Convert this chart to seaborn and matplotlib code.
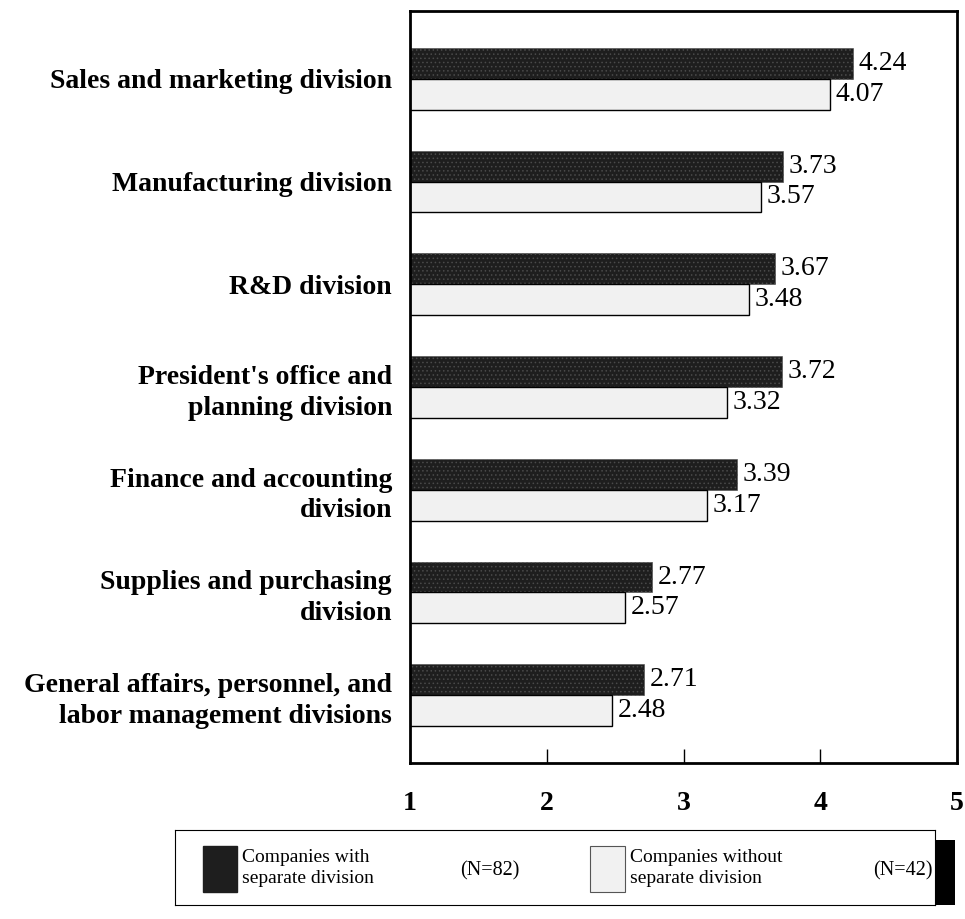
import matplotlib
matplotlib.use("Agg")
import matplotlib.pyplot as plt
from matplotlib.patches import Rectangle
import seaborn as sns
import pandas as pd

# Survey scores by division (1 = low, 5 = high)
divisions = [
    "Sales and marketing division",
    "Manufacturing division",
    "R&D division",
    "President's office and\nplanning division",
    "Finance and accounting\ndivision",
    "Supplies and purchasing\ndivision",
    "General affairs, personnel, and\nlabor management divisions",
]
with_separate = [4.24, 3.73, 3.67, 3.72, 3.39, 2.77, 2.71]
without_separate = [4.07, 3.57, 3.48, 3.32, 3.17, 2.57, 2.48]
group_names = ["Companies with\nseparate division", "Companies without\nseparate division"]
group_counts = ["(N=82)", "(N=42)"]
x_ticks = [1, 2, 3, 4, 5]

df = pd.DataFrame({
    "division": divisions * 2,
    "score": with_separate + without_separate,
    "group": [group_names[0]] * len(divisions) + [group_names[1]] * len(divisions),
})

sns.set_theme(style="white")
plt.rcParams["font.family"] = ["Liberation Serif", "DejaVu Serif"]
plt.rcParams["text.color"] = "black"
plt.rcParams["xtick.color"] = "black"
plt.rcParams["ytick.color"] = "black"
plt.rcParams["hatch.linewidth"] = 0.6

dark = "#1e1e1e"
light = "#f1f1f1"

fig = plt.figure(figsize=(9.65, 9.19), dpi=100)
ax = fig.add_axes([410 / 965, 1 - 763 / 919, (957 - 410) / 965, (763 - 11) / 919])

sns.barplot(data=df, y="division", x="score", hue="group", orient="h",
            palette=[dark, light], width=0.6, gap=0, ax=ax, legend=False,
            saturation=1, errorbar=None)

# stippled dark bars, outlined light bars
for patch in ax.containers[0]:
    patch.set_edgecolor("#4a4a4a")
    patch.set_hatch("....")
    patch.set_linewidth(0.4)
for patch in ax.containers[1]:
    patch.set_edgecolor("black")
    patch.set_linewidth(1.0)

for cont in ax.containers:
    ax.bar_label(cont, fmt="%.2f", padding=4, fontsize=20, color="black",
                 family="Liberation Serif")

ax.set_xlim(1, 5)
ax.set_ylim(6.66, -0.66)
ax.set_xticks(x_ticks)
ax.set_xticklabels([str(t) for t in x_ticks], fontsize=20, fontweight="bold")
ax.tick_params(axis="x", direction="in", length=10, width=1, pad=20, bottom=True)
ax.tick_params(axis="y", length=0, pad=13)
for lbl in ax.get_yticklabels():
    lbl.set_fontsize(20)
    lbl.set_fontweight("bold")
    lbl.set_color("black")
    lbl.set_horizontalalignment("right")
    lbl.set_multialignment("right")
    lbl.set_linespacing(1.3)
ax.set_xlabel("")
ax.set_ylabel("")
for sp in ax.spines.values():
    sp.set_visible(True)
    sp.set_color("black")
    sp.set_linewidth(2.0)

# Legend panel below the chart
lax = fig.add_axes([175 / 965, 1 - 905 / 919, (935 - 175) / 965, (905 - 830) / 919])
lax.set_xlim(175, 935)
lax.set_ylim(905, 830)
lax.set_xticks([])
lax.set_yticks([])
for sp in lax.spines.values():
    sp.set_linewidth(0.8)
    sp.set_color("black")
lax.add_patch(Rectangle((203, 846), 34, 46, facecolor=dark, edgecolor=dark))
lax.add_patch(Rectangle((590, 846), 35, 46, facecolor=light, edgecolor="#555555", lw=0.8))
lax.text(242, 868, group_names[0], fontsize=14, va="center", ha="left", linespacing=1.35)
lax.text(460, 871, group_counts[0], fontsize=14.5, va="center", ha="left")
lax.text(630, 868, group_names[1], fontsize=14, va="center", ha="left", linespacing=1.35)
lax.text(873, 871, group_counts[1], fontsize=14.5, va="center", ha="left")
fig.patches.append(Rectangle((935 / 965, 1 - 905 / 919), 20 / 965, 65 / 919,
                             transform=fig.transFigure, facecolor="black", edgecolor="none"))

fig.savefig("out.png", dpi=100, facecolor="white")
